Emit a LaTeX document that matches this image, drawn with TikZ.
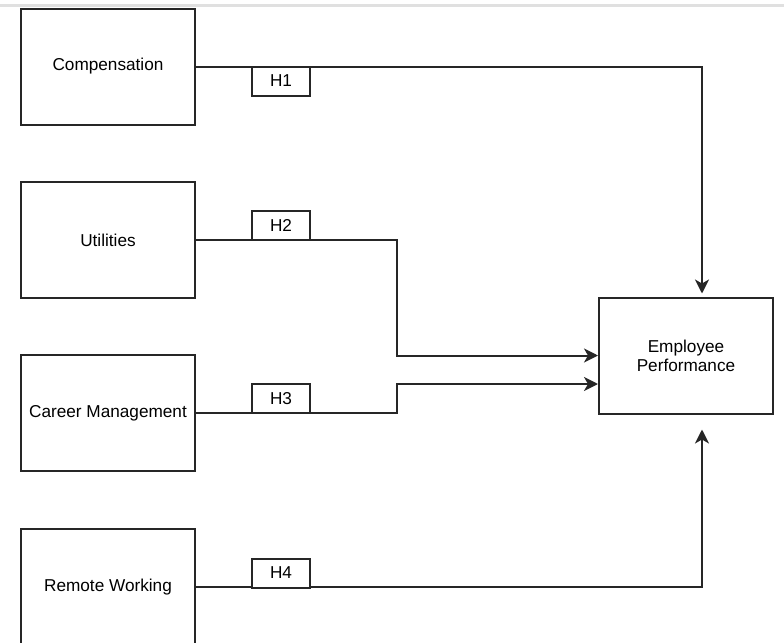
\documentclass[tikz,border=0pt]{standalone}
\usepackage{fontspec}
\setmainfont{Liberation Sans}
\usetikzlibrary{arrows.meta}

\tikzset{
  varbox/.style={draw=black!85, line width=1pt, fill=white, minimum width=87pt, minimum height=58pt,
    inner sep=1pt, align=center, font=\fontsize{8.6}{9.5}\selectfont},
  hypbox/.style={draw=black!85, line width=1pt, fill=white, minimum width=29pt, minimum height=14.5pt,
    inner sep=0pt, font=\fontsize{8.6}{9.5}\selectfont},
  link/.style={draw=black!85, line width=1pt, -{Stealth[length=7pt,width=7pt,inset=2pt]}}
}

\begin{document}
\begin{tikzpicture}[x=0.5pt,y=-0.5pt]
        \useasboundingbox (0,0) rectangle (784,643);
        \clip (0,0) rectangle (784,643);
        \draw[black!12, line width=1.5pt] (0,5) -- (784,5);

        % variables
        \node[varbox] (comp) at (108,66.5) {Compensation};
        \node[varbox] (util) at (108,240) {Utilities};
        \node[varbox] (career) at (108,413) {Career Management};
        \node[varbox] (remote) at (108,587) {Remote Working};
        \node[varbox] (perf) at (686,355.5) {Employee\\Performance};

        % bends
        \coordinate (k1) at (702,66.5);
        \coordinate (j1) at (397,240);
        \coordinate (j2) at (397,384);
        \coordinate (k4) at (702,587);

        \draw[link, shorten >=1.5pt] (comp.east) -- (k1) -- (k1 |- perf.north);
        \draw[link] (util.east) -- (j1) -- (j1 |- perf.west) -- (perf.west);
        \draw[link] (career.east) -| (j2) -- (j2 -| perf.west);
        \draw[link, shorten >=7.5pt] (remote.east) -- (k4) -- (k4 |- perf.south);

        % hypotheses
        \node[hypbox] (h1) at (281,81) {H1};
        \node[hypbox] (h2) at (281,225.5) {H2};
        \node[hypbox] (h3) at (281,398.5) {H3};
        \node[hypbox] (h4) at (281,573) {H4};
    \end{tikzpicture}
\end{document}
